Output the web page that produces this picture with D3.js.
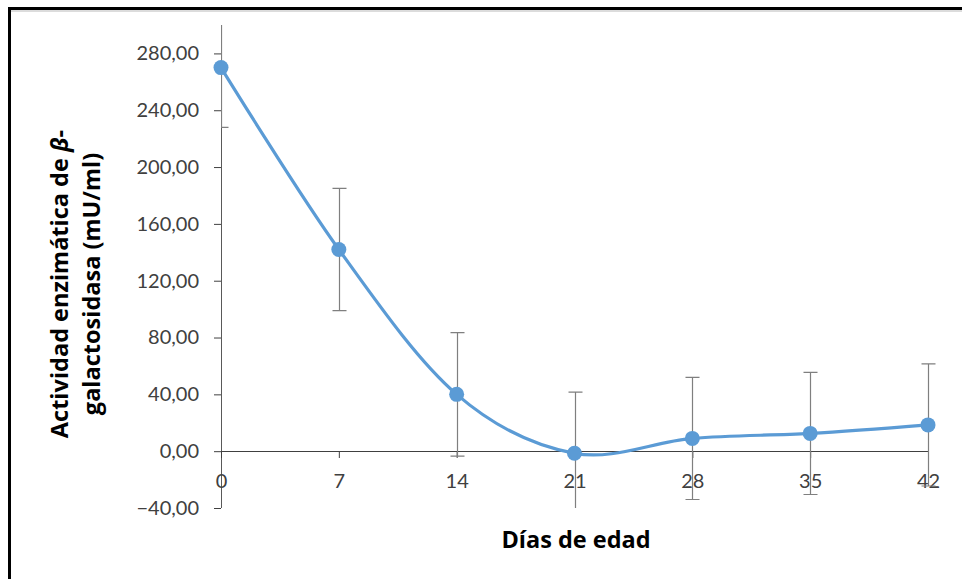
<!DOCTYPE html>
<html lang="es">
<head>
	<meta charset="UTF-8"/>
	<title>Actividad enzimática de β-galactosidasa</title>
	<script src="https://d3js.org/d3.v7.min.js"></script>
	<style>
		body { margin: 0; background: #fff; }
		svg { display: block; }
	</style>
</head>
<body>
	<div id="chart"></div>

	<script>
	//Window Size
	var w = 962;
	var h = 579;

	//Data
	var dias = [0, 7, 14, 21, 28, 35, 42];
	var actividad = [270, 142, 40, -1.5, 9, 12.5, 18.5];
	var desviacion = [42, 43, 43.5, 43, 43, 43, 43];

	//Axis ticks
	var yTicks = [-40, 0, 40, 80, 120, 160, 200, 240, 280];
	var xTicks = [0, 7, 14, 21, 28, 35, 42];

	//Plot area
	var plotLeft = 221, plotRight = 928, plotTop = 25, plotBottom = 508;

	var fontFam = "Lato, 'Open Sans', sans-serif";
	var titleFam = "'Open Sans', Lato, sans-serif";
	var azul = "#5B9BD5";
	var gris = "#7f7f7f";

	var xScale = d3.scaleLinear()
		.domain([0, 42])
		.range([plotLeft, plotRight]);

	var yScale = d3.scaleLinear()
		.domain([-40, 300])
		.range([plotBottom, plotTop]);

	var formatComa = function(d) {
		return d3.format(".2f")(d).replace(".", ",");
	};

	var svg = d3.select("#chart")
		.append("svg")
		.attr("width", w)
		.attr("height", h);

	//Outer frame
	svg.append("rect")
		.attr("x", 9.5).attr("y", 8.5)
		.attr("width", 1000).attr("height", 1000)
		.attr("fill", "none")
		.attr("stroke", "#000")
		.attr("stroke-width", 3);
	svg.append("line")
		.attr("x1", 11).attr("x2", w)
		.attr("y1", 11).attr("y2", 11)
		.attr("stroke", "#d0d0d0")
		.attr("stroke-width", 1.5);

	//error bars are cut at the value range and at the y axis
	svg.append("defs").append("clipPath")
		.attr("id", "plotClip")
		.append("rect")
		.attr("x", plotLeft).attr("y", plotTop)
		.attr("width", plotRight - plotLeft + 12).attr("height", plotBottom - plotTop);

	//Y axis
	var yAxis = d3.axisLeft(yScale)
		.tickValues(yTicks)
		.tickFormat(formatComa)
		.tickSizeInner(7)
		.tickSizeOuter(0)
		.tickPadding(15);

	var gy = svg.append("g")
		.attr("transform", "translate(" + plotLeft + ",0)")
		.call(yAxis);
	gy.select(".domain")
		.attr("d", "M0.5," + plotTop + "V" + plotBottom)
		.attr("stroke", "#595959");
	gy.selectAll(".tick line").attr("stroke", "#404040");
	gy.selectAll(".tick text")
		.attr("font-family", fontFam)
		.attr("font-size", "20px")
		.attr("fill", "#404040");

	//X axis along value 0
	var xAxis = d3.axisBottom(xScale)
		.tickValues(xTicks)
		.tickSizeInner(7)
		.tickSizeOuter(0)
		.tickPadding(16);

	var gx = svg.append("g")
		.attr("transform", "translate(0," + Math.round(yScale(0)) + ")")
		.call(xAxis);
	gx.select(".domain").attr("stroke", "#404040");
	gx.selectAll(".tick line").attr("stroke", "#404040");
	gx.selectAll(".tick text")
		.attr("font-family", fontFam)
		.attr("font-size", "20px")
		.attr("fill", "#404040");

	//Error bars
	var eb = svg.append("g")
		.attr("clip-path", "url(#plotClip)")
		.attr("stroke", gris)
		.attr("stroke-width", 1.2)
		.attr("fill", "none");

	eb.selectAll("path")
		.data(dias)
		.enter()
		.append("path")
		.attr("d", function(d, i) {
			var x = Math.round(xScale(d)) + 0.5;
			var y1 = yScale(actividad[i] + desviacion[i]);
			var y2 = yScale(actividad[i] - desviacion[i]);
			return "M" + x + "," + y1 + "V" + y2 +
				"M" + (x - 7) + "," + y1 + "H" + (x + 7) +
				"M" + (x - 7) + "," + y2 + "H" + (x + 7);
		});

	//Smoothed line
	var linea = d3.line()
		.x(function(d, i) { return xScale(d); })
		.y(function(d, i) { return yScale(actividad[i]); })
		.curve(d3.curveCardinal.tension(0));

	svg.append("path")
		.datum(dias)
		.attr("d", linea)
		.attr("fill", "none")
		.attr("stroke", azul)
		.attr("stroke-width", 3.2);

	svg.selectAll("circle")
		.data(dias)
		.enter()
		.append("circle")
		.attr("cx", function(d) { return xScale(d); })
		.attr("cy", function(d, i) { return yScale(actividad[i]); })
		.attr("r", 7.5)
		.attr("fill", azul);

	//Axis titles
	svg.append("text")
		.attr("x", 576)
		.attr("y", 548)
		.attr("text-anchor", "middle")
		.attr("font-family", titleFam)
		.attr("font-weight", "bold")
		.attr("font-size", "23.5px")
		.attr("fill", "#000")
		.text("Días de edad");

	var yt = svg.append("g")
		.attr("transform", "translate(0,284) rotate(-90)")
		.attr("font-family", titleFam)
		.attr("font-weight", "bold")
		.attr("font-size", "23.5px")
		.attr("fill", "#000")
		.attr("text-anchor", "middle");

	var l1 = yt.append("text").attr("x", 0).attr("y", 68);
	l1.append("tspan").text("Actividad enzimática de ");
	l1.append("tspan").attr("font-style", "italic").text("β");
	l1.append("tspan").text("-");

	yt.append("text")
		.attr("x", 0)
		.attr("y", 100)
		.text("galactosidasa (mU/ml)");
	</script>
</body>
</html>
